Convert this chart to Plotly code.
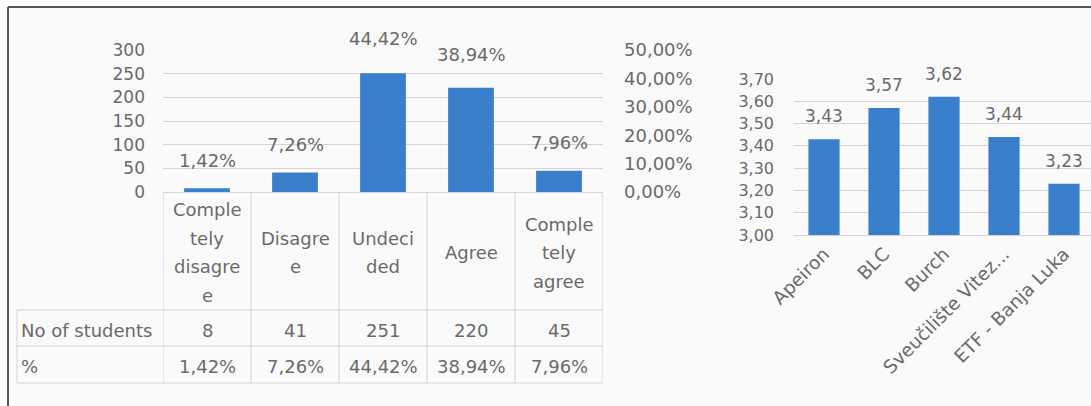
import plotly.graph_objects as go

# ---------------- data ----------------
categories = ["Completely disagree", "Disagree", "Undecided", "Agree", "Completely agree"]
category_labels = ["Comple<br>tely<br>disagre<br>e", "Disagre<br>e", "Undeci<br>ded", "Agree", "Comple<br>tely<br>agree"]
students = [8, 41, 251, 220, 45]
percent = [1.42, 7.26, 44.42, 38.94, 7.96]
row_labels = ["No of students", "%"]

universities = ["Apeiron", "BLC", "Burch", "Sveučilište Vitez...", "ETF - Banja Luka"]
mean_scores = [3.43, 3.57, 3.62, 3.44, 3.23]

# ---------------- styling ----------------
W, H = 1091, 406
FONT = "DejaVu Sans"
TXT = "#6a6a6a"
GRID = "#d9d2cf"
BLUE = "#3a7fcb"
FS = 18


def fx(px):
    return px / W


def fy(py):
    return 1 - py / H


def fmt_pct(v):
    return f"{v:.2f}%".replace(".", ",")


def tfont(size=FS):
    return dict(size=size, color=TXT, family=FONT)


fig = go.Figure()

fig.add_trace(go.Bar(x=categories, y=students, marker=dict(color=BLUE, line=dict(width=0)),
                     xaxis="x", yaxis="y", hoverinfo="skip", showlegend=False))
fig.add_trace(go.Scatter(x=categories, y=[p / 100 for p in percent], mode="markers",
                         marker=dict(opacity=0), xaxis="x", yaxis="y2",
                         hoverinfo="skip", showlegend=False))
fig.add_trace(go.Bar(x=universities, y=mean_scores, marker=dict(color=BLUE, line=dict(width=0)),
                     xaxis="x3", yaxis="y3", hoverinfo="skip", showlegend=False))

annotations = []
for c, p in zip(categories, percent):
    annotations.append(dict(x=c, y=p / 100, xref="x", yref="y2", text=fmt_pct(p),
                            showarrow=False, yshift=27, font=tfont()))
for u, v in zip(universities, mean_scores):
    annotations.append(dict(x=u, y=v, xref="x3", yref="y3", text=f"{v:.2f}".replace(".", ","),
                            showarrow=False, yshift=23, font=tfont(17)))

hdr_top, hdr_bot, r1_bot, r2_bot = 192, 310, 346, 383
hdr_center, line_gap = 252.5, 28.5
for c, lab, n, p in zip(categories, category_labels, students, percent):
    lines = lab.split("<br>")
    for k, ln in enumerate(lines):
        yy = hdr_center + (k - (len(lines) - 1) / 2) * line_gap
        annotations.append(dict(x=c, y=fy(yy), xref="x", yref="paper", text=ln,
                                showarrow=False, yanchor="middle", font=tfont()))
    annotations.append(dict(x=c, y=fy(330), xref="x", yref="paper", text=str(n),
                            showarrow=False, yanchor="middle", font=tfont()))
    annotations.append(dict(x=c, y=fy(366), xref="x", yref="paper", text=fmt_pct(p),
                            showarrow=False, yanchor="middle", font=tfont()))
for lab, yy in zip(row_labels, [330, 366]):
    annotations.append(dict(x=fx(19), y=fy(yy), xref="paper", yref="paper", text=lab,
                            showarrow=False, xanchor="left", yanchor="middle", font=tfont()))

shapes = []
shapes.append(dict(type="rect", xref="paper", yref="paper", x0=fx(9), x1=1, y0=0, y1=fy(8),
                   fillcolor="#fafafa", line=dict(width=0), layer="below"))
shapes.append(dict(type="line", xref="paper", yref="paper", x0=fx(8), x1=1, y0=fy(7), y1=fy(7),
                   line=dict(color="#555555", width=2)))
shapes.append(dict(type="line", xref="paper", yref="paper", x0=fx(8), x1=fx(8), y0=0, y1=fy(7),
                   line=dict(color="#555555", width=2)))
tl = dict(color=GRID, width=1)
for i in range(len(categories) + 1):
    shapes.append(dict(type="line", xref="x", yref="paper", x0=i - 0.5, x1=i - 0.5,
                       y0=fy(hdr_top), y1=fy(r2_bot), line=tl))
shapes.append(dict(type="line", xref="paper", yref="paper", x0=fx(17), x1=fx(17),
                   y0=fy(hdr_bot), y1=fy(r2_bot), line=tl))
for yy in (hdr_bot, r1_bot, r2_bot):
    shapes.append(dict(type="line", xref="paper", yref="paper", x0=fx(17), x1=fx(603),
                       y0=fy(yy), y1=fy(yy), line=tl))

fig.update_layout(
    template="none",
    width=W, height=H,
    margin=dict(l=0, r=0, t=0, b=0, pad=0),
    paper_bgcolor="white", plot_bgcolor="rgba(0,0,0,0)",
    separators=", ",
    bargap=0.48,
    font=tfont(),
    xaxis=dict(domain=[fx(163), fx(603)], range=[-0.5, 4.5], showticklabels=False, ticks="",
               showgrid=False, showline=True, linecolor=GRID, zeroline=False, automargin=False),
    yaxis=dict(domain=[fy(192), fy(50)], range=[0, 300], dtick=50, showgrid=True, gridcolor=GRID,
               zeroline=False, ticks="", showline=False, tickfont=tfont(17),
               ticklabelstandoff=17, automargin=False),
    yaxis2=dict(overlaying="y", side="right", range=[0, 0.5], dtick=0.1, tickformat=".2%",
                showgrid=False, zeroline=False, ticks="", showline=False,
                tickfont=tfont(18), ticklabelstandoff=20, anchor="x", automargin=False),
    xaxis3=dict(domain=[fx(794), 1], range=[-0.5, 4.45], anchor="y3", tickangle=-45,
                showgrid=False, showline=True, linecolor=GRID, ticks="", zeroline=False,
                tickfont=tfont(18.5), automargin=False),
    yaxis3=dict(domain=[fy(235), fy(79)], range=[3.0, 3.7], dtick=0.1, tickformat=".2f",
                anchor="x3", showgrid=True, gridcolor=GRID, zeroline=False, ticks="", showline=False,
                tickfont=tfont(16), ticklabelstandoff=19, automargin=False),
    annotations=annotations,
    shapes=shapes,
)

fig.write_html("out.html", config={"displayModeBar": False},
               post_script="document.body.style.margin='0';document.body.style.overflow='hidden';")
